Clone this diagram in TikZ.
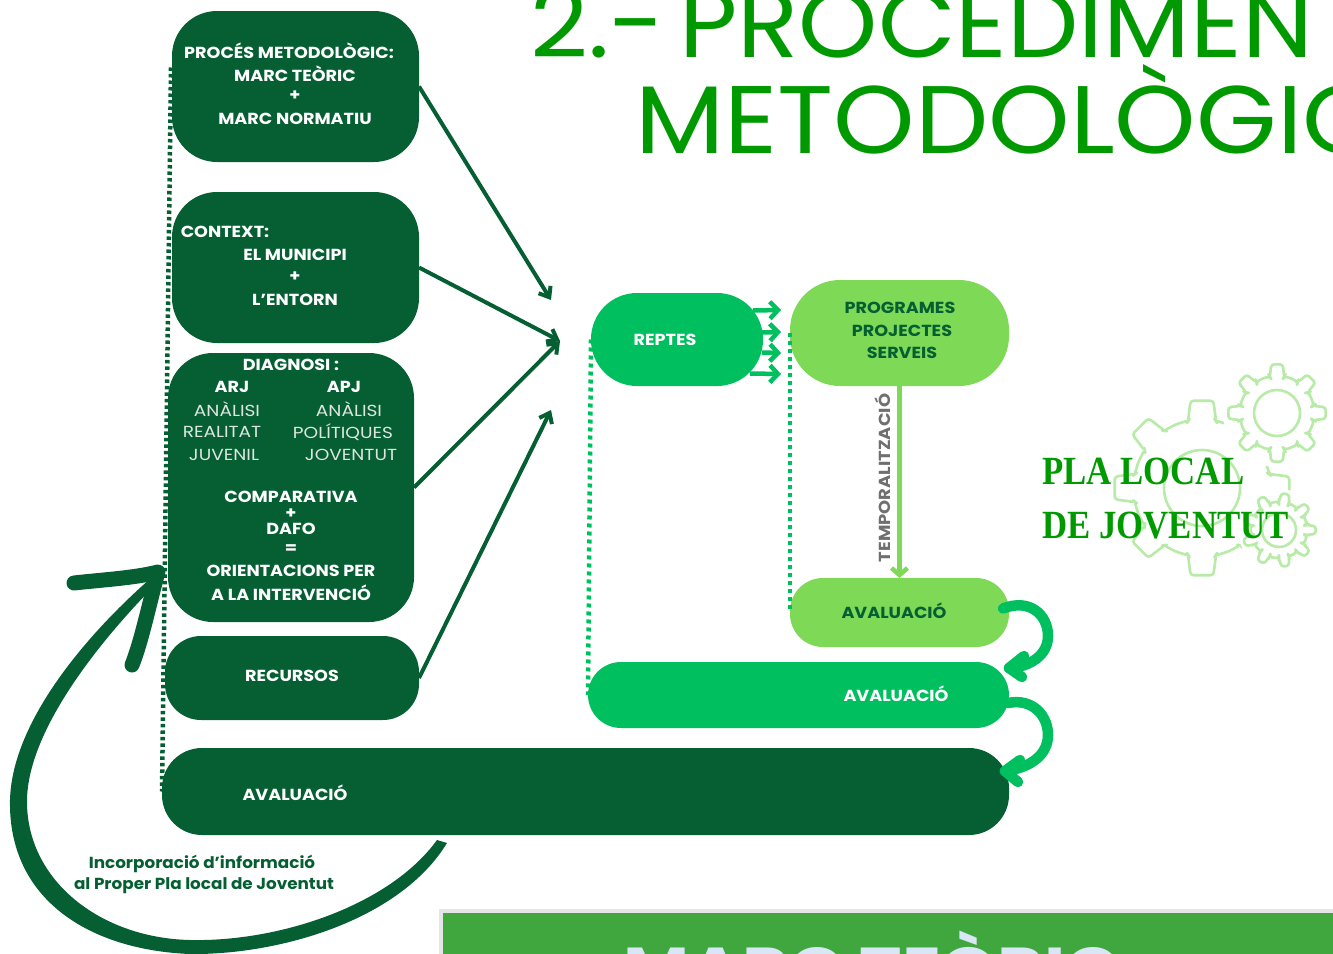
\documentclass[tikz,border=0pt]{standalone}
\usepackage{fontspec}
\setmainfont{Poppins}
\newfontfamily\titlefont{Poppins}
\newfontfamily\serifbold{Liberation Serif}[UprightFont=* Bold]
\usetikzlibrary{arrows.meta,calc}
\definecolor{darkg}{HTML}{065F33}
\definecolor{midg}{HTML}{00BF5F}
\definecolor{lightg}{HTML}{7ED957}
\definecolor{titleg}{HTML}{009A00}
\definecolor{barg}{HTML}{40A63E}
\definecolor{gearg}{HTML}{B8EAA8}
\definecolor{txtgrey}{HTML}{6F6F6F}
\definecolor{softw}{HTML}{DDE5DF}
\definecolor{barlab}{HTML}{D9E6F5}
\tikzset{
  box/.style={rectangle,inner sep=0pt,outer sep=0pt,draw=none},
  darkbox/.style={box,fill=darkg},
  midbox/.style={box,fill=midg},
  lightbox/.style={box,fill=lightg},
  lab/.style={font=\fontsize{16}{18}\selectfont\bfseries,text=white,inner sep=0pt,xscale=1.1},
  thinlab/.style={font=\fontsize{16}{18}\selectfont,text=softw,inner sep=0pt,xscale=1.16},
  darklab/.style={lab,text=darkg},
  noteLab/.style={font=\fontsize{16}{18}\selectfont\bfseries,text=darkg,inner sep=0pt,xscale=1.05},
  feed/.style={draw=darkg,line width=4pt,-{Straight Barb[length=9pt,width=14pt,line width=4pt]}},
  fork/.style={draw=midg,line width=4.5pt,-{Straight Barb[length=8pt,width=17pt,line width=4.5pt]}},
  loopback/.style={draw=midg,line width=10.5pt,line cap=round,line join=round},
  dotsD/.style={line width=4.5pt,dash pattern=on 3.5pt off 3pt},
  dotsM/.style={line width=4.5pt,dash pattern=on 4pt off 4pt},
  gearline/.style={draw=gearg,line width=2.6pt,rounded corners=3pt,line join=round},
}
% centre x, centre y, body radius, tip radius, ring radius, teeth, half base angle
\newcommand{\geardraw}[7]{%
  \begin{scope}[shift={(#1,#2)}]
    \pgfmathsetmacro{\stepang}{360/#6}
    \pgfmathsetmacro{\halfbase}{#7}
    \pgfmathsetmacro{\halftip}{#7*0.62}
    \path[gearline,fill=white]
      (-\halfbase:#3)
      foreach \k in {0,...,\numexpr#6-1\relax}{
        -- ({\k*\stepang-\halfbase}:#3)
        -- ({\k*\stepang-\halftip}:#4)
        -- ({\k*\stepang+\halftip}:#4)
        -- ({\k*\stepang+\halfbase}:#3)
        -- ({\k*\stepang+\stepang*0.25}:#3*1.012)
        -- ({\k*\stepang+\stepang*0.5}:#3*1.012)
        -- ({\k*\stepang+\stepang*0.75}:#3*1.012)
      } -- cycle;
    \draw[draw=gearg,line width=2.6pt] (0,0) circle[radius=#5];
  \end{scope}}
\begin{document}
\begin{tikzpicture}[x=1pt,y=-1pt]
\useasboundingbox (0,0) rectangle (1333,953);
\clip (0,0) rectangle (1333,953);

% gears
\geardraw{1202}{488}{68}{88}{38}{8}{12}
\path[fill=white] (1277,413) circle[radius=54];
\path[fill=white] (1279,530) circle[radius=41];
\geardraw{1277}{413}{37}{49}{23}{8}{11}
\geardraw{1279}{530}{28}{37}{17}{9}{10}

% title
\node[anchor=base west,inner sep=0pt,text=titleg,font=\titlefont\fontsize{96}{96}\selectfont,xscale=1.05] (title1) at (530,57) {2.-\hspace*{-12pt} PROCEDIMENT};
\node[anchor=base west,inner sep=0pt,text=titleg,font=\titlefont\fontsize{96}{96}\selectfont,xscale=1.08] (title2) at (635,153) {METODOLÒGIC};

% left column
\node[darkbox,minimum width=247pt,minimum height=151pt,rounded corners=45pt] (marc) at (295.5,86.5) {};
\node[darkbox,minimum width=247pt,minimum height=151pt,rounded corners=45pt] (ctx) at (295.5,267.5) {};
\node[darkbox,minimum width=246pt,minimum height=269pt,rounded corners=45pt] (diag) at (291,487.5) {};
\node[darkbox,minimum width=254pt,minimum height=84pt,rounded corners=36pt] (rec) at (292,678) {};
\node[darkbox,minimum width=847pt,minimum height=87pt,rounded corners=40pt] (avalD) at (585.5,791.5) {};

% right column
\node[midbox,minimum width=172pt,minimum height=93pt,rounded corners=46pt] (rep) at (677,339.5) {};
\node[lightbox,minimum width=219pt,minimum height=106pt,rounded corners=50pt] (prog) at (899.5,333) {};
\node[lightbox,minimum width=219pt,minimum height=69pt,rounded corners=33pt] (avalL) at (899.5,612.5) {};
\node[midbox,minimum width=421pt,minimum height=66pt,rounded corners=33pt] (avalM) at (798.5,695) {};

% labels
\node[lab] (t1) at (289,51) {PROCÉS METODOLÒGIC:};
\node[lab] (t2) at (295,74) {MARC TEÒRIC};
\node[lab] (t3) at (295,96) {+};
\node[lab] (t4) at (295,119) {MARC NORMATIU};
\node[lab] (c1) at (225,232) {CONTEXT:};
\node[lab] (c2) at (295,255) {EL MUNICIPI};
\node[lab] (c3) at (295,277) {+};
\node[lab] (c4) at (295,300) {L’ENTORN};
\node[lab] (d1) at (291,365) {DIAGNOSI :};
\node[lab] (d2) at (232,387) {ARJ};
\node[lab] (d3) at (344,387) {APJ};
\node[thinlab] (d4) at (227,409) {ANÀLISI};
\node[thinlab] (d5) at (349,409) {ANÀLISI};
\node[thinlab] (d6) at (222,432) {REALITAT};
\node[thinlab] (d7) at (343,432) {POLÍTIQUES};
\node[thinlab] (d8) at (224,455) {JUVENIL};
\node[thinlab] (d9) at (351,455) {JOVENTUT};
\node[lab] (d10) at (291,497) {COMPARATIVA};
\node[lab] (d11) at (291,514) {+};
\node[lab] (d12) at (291,529) {DAFO};
\node[lab] (d13) at (291,549) {=};
\node[lab] (d14) at (291,571) {ORIENTACIONS PER};
\node[lab] (d15) at (291,593) {A LA INTERVENCIÓ};
\node[lab] (r1) at (292,676) {RECURSOS};
\node[lab] (a1) at (295,793) {AVALUACIÓ};
\node[lab] (rp) at (665,340) {REPTES};
\node[darklab] (p1) at (900,308) {PROGRAMES};
\node[darklab] (p2) at (902,331) {PROJECTES};
\node[darklab] (p3) at (902,353) {SERVEIS};
\node[darklab] (a2) at (894,611) {AVALUACIÓ};
\node[lab] (a3) at (896,694) {AVALUACIÓ};
\node[rotate=90,xscale=1.12,inner sep=0pt,text=txtgrey,font=\fontsize{16}{18}\selectfont\bfseries] (temp) at (883,478) {TEMPORALITZACIÓ};
\node[noteLab] (i1) at (202,863.5) {Incorporació d’informació};
\node[noteLab] (i2) at (204,886) {al Proper Pla local de Joventut};

% plan title
\node[anchor=base west,inner sep=0pt,text=titleg,font=\serifbold\fontsize{40}{40}\selectfont,xscale=0.87] (pla1) at (1042,484) {PLA LOCAL};
\node[anchor=base west,inner sep=0pt,text=titleg,font=\serifbold\fontsize{40}{40}\selectfont,xscale=0.87] (pla2) at (1042,538) {DE JOVENTUT};

% targets
\coordinate (hub1) at (551,300);
\coordinate (hub2) at (560,341);
\coordinate (hub3) at (551,410);

% feeds
\draw[feed] (marc.east) -- (hub1);
\draw[feed] (ctx.east) -- (hub2);
\draw[feed] (diag.east) -- (hub2);
\draw[feed] (rec.east) -- (hub3);

% dotted links
\draw[dotsD,draw=darkg] ($(marc.west)+(-1,-19)$) -- (avalD.west);
\draw[dotsM,draw=midg] (rep.west) -- (avalM.west);
\draw[dotsM,draw=midg] (prog.west) -- ($(avalL.west)+(0,-2)$);

% forks
\draw[fork] ($(rep.east)+(-10,-29)$) -- ($(prog.west)+(-9,-23)$);
\draw[fork] ($(rep.east)+(-1,-7)$) -- ($(prog.west)+(-9,-1)$);
\draw[fork] ($(rep.east)+(-1,13)$) -- ($(prog.west)+(-9,20)$);
\draw[fork] ($(rep.east)+(-13,34)$) -- ($(prog.west)+(-9,41)$);

% temporal arrow
\draw[draw=lightg,line width=4.5pt,-{Straight Barb[length=7pt,width=16pt,line width=4.5pt]}] (prog.south) -- (avalL.north);

% loops
\coordinate (tipL) at (1009,668);
\coordinate (tipM) at (1005,771);
\draw[loopback] ($(avalL.east)+(-6,-4)$) .. controls (1030,598) and (1048,615) .. (1048,636) .. controls (1048,655) and (1030,667) .. (tipL);
\draw[loopback] (1024,656) -- (tipL) -- (1022,677);
\draw[loopback] ($(avalM.east)+(-1,8)$) .. controls (1032,698) and (1048,715) .. (1048,735) .. controls (1048,755) and (1030,768) .. (tipM);
\draw[loopback] (1020,760) -- (tipM) -- (1018,782);

% return arrow
\coordinate (backStart) at (447,843);
\coordinate (backTip) at (158,572);
\fill[darkg] (backStart) .. controls (400,920) and (280,955) .. (190,954)
  .. controls (90,950) and (8,900) .. (10,800)
  .. controls (12,720) and (90,630) .. (backTip)
  -- (160,580) .. controls (100,640) and (28,730) .. (27,800)
  .. controls (26,880) and (100,938) .. (190,940)
  .. controls (280,942) and (390,905) .. (437,840) -- cycle;
\coordinate (barbA) at (74,583);
\coordinate (barbB) at (132,665);
\draw[darkg,line width=15pt,line cap=round,line join=round] (barbA) .. controls (100,580) and (135,578) .. (backTip) .. controls (150,600) and (142,640) .. (barbB);

% bottom bar
\node[anchor=north west,minimum width=900pt,minimum height=50pt,inner sep=0pt,fill=barg,draw=black!10,line width=4pt] (bar) at (439,909) {};
\node[anchor=base,inner sep=0pt,text=barlab,font=\fontsize{62}{62}\selectfont\bfseries,xscale=1.16] (barT) at (872,991) {MARC TEÒRIC};
\end{tikzpicture}
\end{document}
